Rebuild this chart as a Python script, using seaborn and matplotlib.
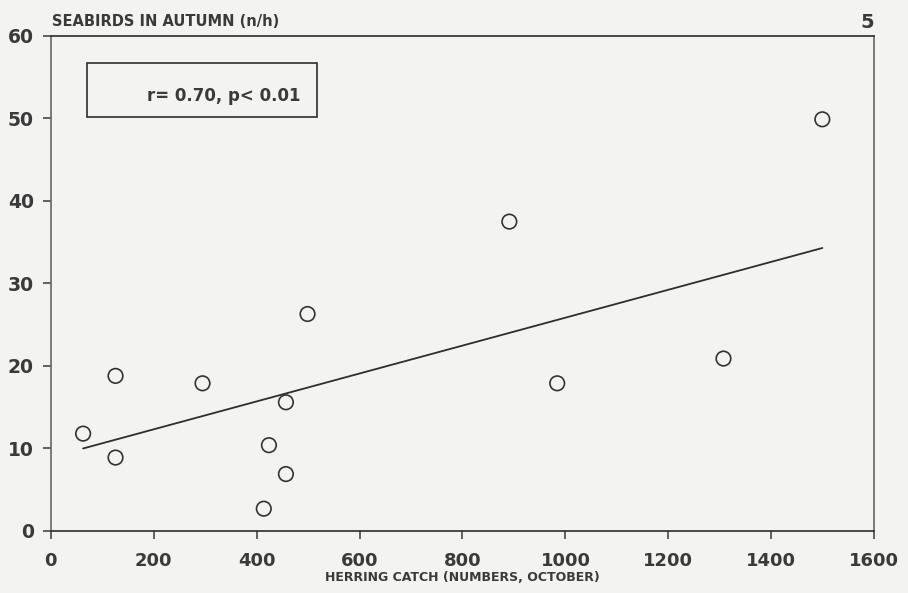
import seaborn as sns
import matplotlib.pyplot as plt
import pandas as pd

# values
herring_catch = [63, 126, 126, 295, 499, 457, 424, 457, 414, 891, 984, 1307, 1499]
seabirds = [11.8, 8.9, 18.8, 17.9, 26.3, 15.6, 10.4, 6.9, 2.7, 37.5, 17.9, 20.9, 49.9]

# regression line as drawn in the original
trend_x = [63, 1499]
trend_y = [10.0, 34.3]

x_ticks = [0, 200, 400, 600, 800, 1000, 1200, 1400, 1600]
y_ticks = [0, 10, 20, 30, 40, 50, 60]

paper = "#f3f3f1"
ink = "#3a3a3a"

sns.set_style("ticks")
plt.rcParams['font.family'] = ['DejaVu Sans']

df = pd.DataFrame({"catch": herring_catch, "birds": seabirds})
line = pd.DataFrame({"x": trend_x, "y": trend_y})

fig = plt.figure(figsize=(9.08, 5.93), dpi=100, facecolor=paper)
ax = fig.add_axes([0.0558, 0.1046, 0.9071, 0.8347], facecolor=paper)

sns.lineplot(data=line, x="x", y="y", ax=ax, color="#2e2e2e", linewidth=1.3)
sns.scatterplot(data=df, x="catch", y="birds", ax=ax, s=110, marker="o",
                facecolor="none", edgecolor="#333333", linewidth=1.2, zorder=3)

ax.set_xlim(0, 1600)
ax.set_ylim(0, 60)
ax.set_xticks(x_ticks)
ax.set_yticks(y_ticks)
ax.tick_params(axis="x", direction="out", length=6, width=1.1, pad=9,
               labelsize=13, labelcolor=ink, color=ink)
ax.tick_params(axis="y", direction="out", length=6, width=1.1, pad=6,
               labelsize=13.5, labelcolor=ink, color=ink)
for lab in ax.get_xticklabels() + ax.get_yticklabels():
    lab.set_fontweight("bold")

for side in ["left", "right", "top", "bottom"]:
    ax.spines[side].set_visible(True)
    ax.spines[side].set_color("#2e2e2e")
    ax.spines[side].set_linewidth(1.2)
ax.spines["left"].set_color("#666666")
ax.spines["right"].set_color("#666666")

ax.set_xlabel("HERRING CATCH (NUMBERS, OCTOBER)", fontsize=9, fontweight="bold",
              color=ink, va="center")
ax.xaxis.set_label_coords(0.5, -0.093)
ax.set_ylabel("")
fig.text(0.057, 0.963, "SEABIRDS IN AUTUMN (n/h)", fontsize=10.5,
         fontweight="bold", color=ink, ha="left", va="center")
fig.text(0.963, 0.962, "5", fontsize=14, fontweight="bold", color=ink,
         ha="right", va="center")

# framed box with the statistics
box = plt.Rectangle((0.0437, 0.8358), 0.2793, 0.109, transform=ax.transAxes,
                    fill=False, edgecolor="#2e2e2e", linewidth=1.2)
ax.add_patch(box)
ax.text(0.1166, 0.879, "r= 0.70, p< 0.01", transform=ax.transAxes, fontsize=12,
        fontweight="bold", color=ink, ha="left", va="center")

fig.savefig("out.png", dpi=100, facecolor=paper)
